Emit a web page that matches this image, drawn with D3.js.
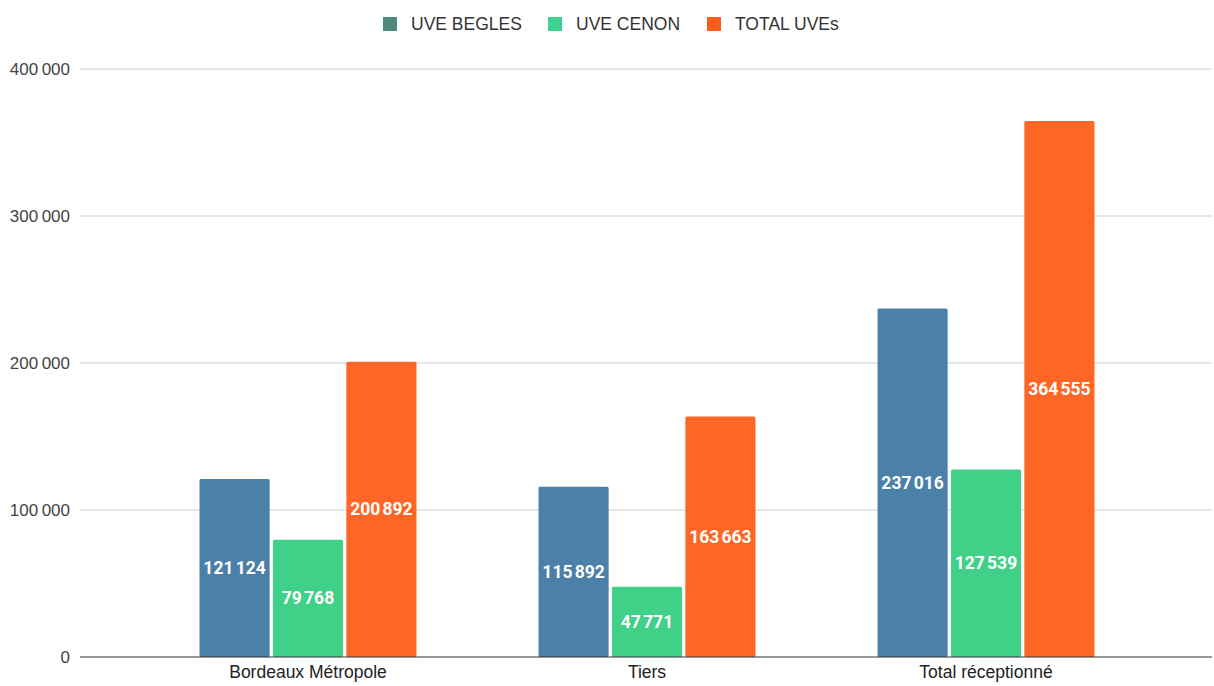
<!DOCTYPE html>
<html><head><meta charset="utf-8">
<script src="https://cdn.jsdelivr.net/npm/d3@7"></script>
<style>body{margin:0;background:#fff}svg{display:block}</style>
</head><body>
<svg id="chart" width="1214" height="686"></svg>
<script>
const categories = ["Bordeaux Métropole", "Tiers", "Total réceptionné"];
const seriesNames = ["UVE BEGLES", "UVE CENON", "TOTAL UVEs"];
const uveBegles = [121124, 115892, 237016];
const uveCenon = [79768, 47771, 127539];
const totalUves = [200892, 163663, 364555];
const yTicks = [0, 100000, 200000, 300000, 400000];

const barColors = ["#4b80a8", "#41d088", "#fd6624"];
const legendColors = ["#4f8a7b", "#3fd093", "#fe5d1f"];
const series = [uveBegles, uveCenon, totalUves];

const svg = d3.select("#chart");
const plot = {left: 80, right: 1212, top: 69, bottom: 657};

const fr = d3.formatLocale({decimal: ",", thousands: "\u202f", grouping: [3], currency: ["", " €"]});
const fmt = fr.format(",d");

const y = d3.scaleLinear().domain([0, 400000]).range([plot.bottom, plot.top]);
const x0 = d3.scaleBand().domain(categories).range([138.5, 1155.5]).paddingInner(0.36).paddingOuter(0.18);
const x1 = d3.scaleBand().domain(seriesNames).range([0, x0.bandwidth()]).paddingInner(0.045);

// gridlines
svg.append("g").selectAll("line").data(yTicks.filter(d => d > 0)).join("line")
  .attr("x1", plot.left).attr("x2", plot.right)
  .attr("y1", d => y(d)).attr("y2", d => y(d))
  .attr("stroke", "#cfcfcf").attr("stroke-width", 1);

// y axis
const yAxis = d3.axisLeft(y).tickValues(yTicks).tickFormat(fmt).tickSize(0).tickPadding(10);
const yg = svg.append("g").attr("transform", `translate(${plot.left},0)`).call(yAxis);
yg.select(".domain").remove();
yg.selectAll("text").attr("font-family", "Liberation Sans, Arial, sans-serif").attr("font-size", 17).attr("fill", "#444").attr("dy", "0.32em");

// bars
const groups = svg.append("g").selectAll("g").data(categories).join("g")
  .attr("transform", d => `translate(${x0(d)},0)`);
groups.selectAll("rect").data((c, i) => seriesNames.map((s, j) => ({s, j, v: series[j][i]}))).join("rect")
  .attr("x", d => x1(d.s)).attr("width", x1.bandwidth())
  .attr("y", d => y(d.v)).attr("height", d => y(0) - y(d.v))
  .attr("rx", 1.5)
  .attr("fill", d => barColors[d.j]);
groups.selectAll("text").data((c, i) => seriesNames.map((s, j) => ({s, j, v: series[j][i]}))).join("text")
  .attr("x", d => x1(d.s) + x1.bandwidth() / 2)
  .attr("y", d => (y(d.v) + y(0)) / 2)
  .attr("dy", "0.35em").attr("text-anchor", "middle")
  .attr("font-family", "Roboto, Arial, sans-serif").attr("font-weight", "bold").attr("font-size", 17.5)
  .attr("letter-spacing", "-0.4px")
  .attr("fill", "#fff").text(d => fmt(d.v));

// x axis baseline
svg.append("line").attr("x1", plot.left).attr("x2", plot.right)
  .attr("y1", y(0)).attr("y2", y(0)).attr("stroke", "#333").attr("stroke-width", 1.2);
const xAxis = d3.axisBottom(x0).tickSize(0).tickPadding(9);
const xg = svg.append("g").attr("transform", `translate(0,${y(0)})`).call(xAxis);
xg.select(".domain").remove();
xg.selectAll("text").attr("font-family", "Liberation Sans, Arial, sans-serif").attr("font-size", 17.5).attr("fill", "#222");

// legend
const legendX = [383, 548, 707];
const lg = svg.append("g").selectAll("g").data(seriesNames).join("g")
  .attr("transform", (d, i) => `translate(${legendX[i]},17)`);
lg.append("rect").attr("width", 14).attr("height", 14).attr("fill", (d, i) => legendColors[i]);
lg.append("text").attr("x", 28).attr("y", 7).attr("dy", "0.35em")
  .attr("font-family", "Liberation Sans, Arial, sans-serif").attr("font-size", 17.5).attr("fill", "#333")
  .text(d => d);
</script>
</body></html>
